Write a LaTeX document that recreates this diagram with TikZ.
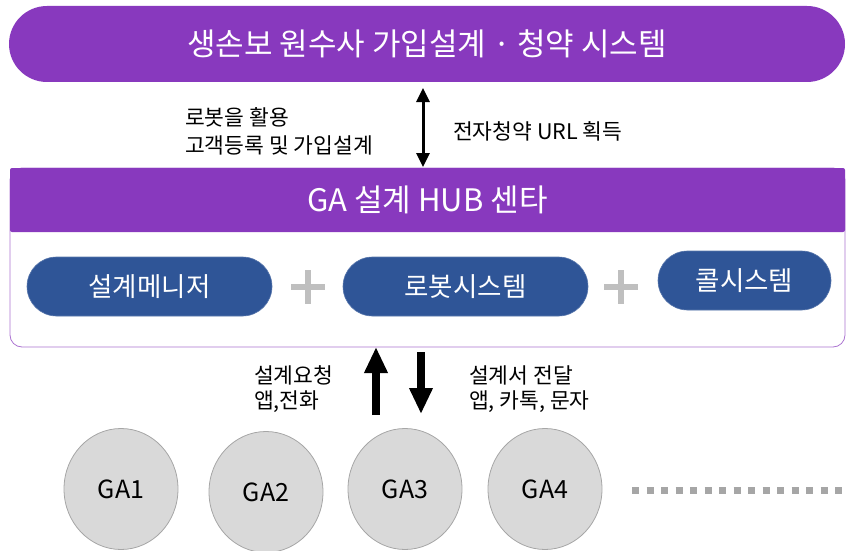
\documentclass[tikz,border=0pt]{standalone}
\usepackage{fontspec}
\setmainfont{Noto Sans CJK KR}
\usetikzlibrary{arrows.meta,shapes.geometric}
\definecolor{hubpurple}{HTML}{8839BE}
\definecolor{pillblue}{HTML}{2F5597}
\definecolor{plusgray}{HTML}{BFBFBF}
\definecolor{gafill}{HTML}{D9D9D9}
\definecolor{gaedge}{HTML}{A6A6A6}
\definecolor{dotgray}{HTML}{A6A6A6}
\begin{document}
\begin{tikzpicture}[x=1pt,y=-1pt,
  banner/.style={draw=none,fill=hubpurple,text=white,minimum width=836pt,minimum height=76pt,rounded corners=38pt,inner sep=0pt,font=\fontsize{31}{36}\selectfont},
  hubbox/.style={draw=hubpurple!70,line width=0.8pt,fill=white,minimum width=835pt,minimum height=179pt,rounded corners=12pt,inner sep=0pt},
  hubhead/.style={fill=hubpurple,text=white,minimum width=835pt,minimum height=64pt,rounded corners=2pt,inner sep=0pt,font=\fontsize{31}{36}\selectfont},
  pill/.style={fill=pillblue,draw=pillblue!80!white,line width=0.6pt,text=white,minimum height=59pt,rounded corners=29.5pt,inner sep=0pt,font=\fontsize{26.5}{30}\selectfont},
  plusline/.style={draw=plusgray,line width=6pt},
  lbl/.style={anchor=west,align=left,inner sep=0pt,font=\fontsize{21.5}{28}\selectfont},
  thinarrow/.style={line width=3pt,{Triangle[length=14pt,width=13pt]}-{Triangle[length=14pt,width=13pt]}},
  bigarrow/.style={line width=8pt,-{Triangle[length=26pt,width=22pt]}},
  ga/.style={ellipse,draw=gaedge,line width=0.8pt,fill=gafill,minimum width=114pt,minimum height=121pt,inner sep=0pt,font=\fontsize{25}{29}\selectfont},
  dots/.style={draw=dotgray,line width=7pt,dash pattern=on 7pt off 7.5pt}]
\useasboundingbox (0,0) rectangle (846,551);
% top banner
\node[banner] (top) at (427,44) {생손보 원수사 가입설계 · 청약 시스템};
% hub
\node[hubbox] (hub) at (427.5,257.5) {};
\node[hubhead] (hubtitle) at (427.5,200) {GA 설계 HUB 센타};
% pills
\node[pill,minimum width=245pt] (mgr) at (149.5,286.5) {설계메니저};
\node[pill,minimum width=245pt] (robot) at (465.5,286.5) {로봇시스템};
\node[pill,minimum width=173pt] (call) at (744.5,280.5) {콜시스템};
% plus signs
\draw[plusline] (291,287) -- (325,287);
\draw[plusline] (308,270) -- (308,304);
\draw[plusline] (604,287) -- (638,287);
\draw[plusline] (621,270) -- (621,304);
% top double arrow
\coordinate (ta) at (423,88);
\coordinate (tb) at (423,167);
\draw[thinarrow] (ta) -- (tb);
\node[lbl] (l1) at (185,131) {로봇을 활용\\고객등록 및 가입설계};
\node[lbl] (l2) at (453,131) {전자청약 URL 획득};
% bottom arrows
\coordinate (ua) at (376,415);
\coordinate (ub) at (376,347);
\coordinate (da) at (421,352);
\coordinate (db) at (421,414);
\draw[bigarrow] (ua) -- (ub);
\draw[bigarrow] (da) -- (db);
\node[lbl,font=\fontsize{21.5}{25}\selectfont] (l3) at (254,389) {설계요청\\앱,전화};
\node[lbl,font=\fontsize{21.5}{25}\selectfont] (l4) at (469,389) {설계서 전달\\앱, 카톡, 문자};
% GA ellipses
\node[ga] (ga1) at (121,489) {GA1};
\node[ga] (ga2) at (266,492) {GA2};
\node[ga] (ga3) at (405,489) {GA3};
\node[ga] (ga4) at (545,489) {GA4};
\coordinate (d1) at (632,490);
\coordinate (d2) at (846,490);
\draw[dots] (d1) -- (d2);
\end{tikzpicture}
\end{document}
